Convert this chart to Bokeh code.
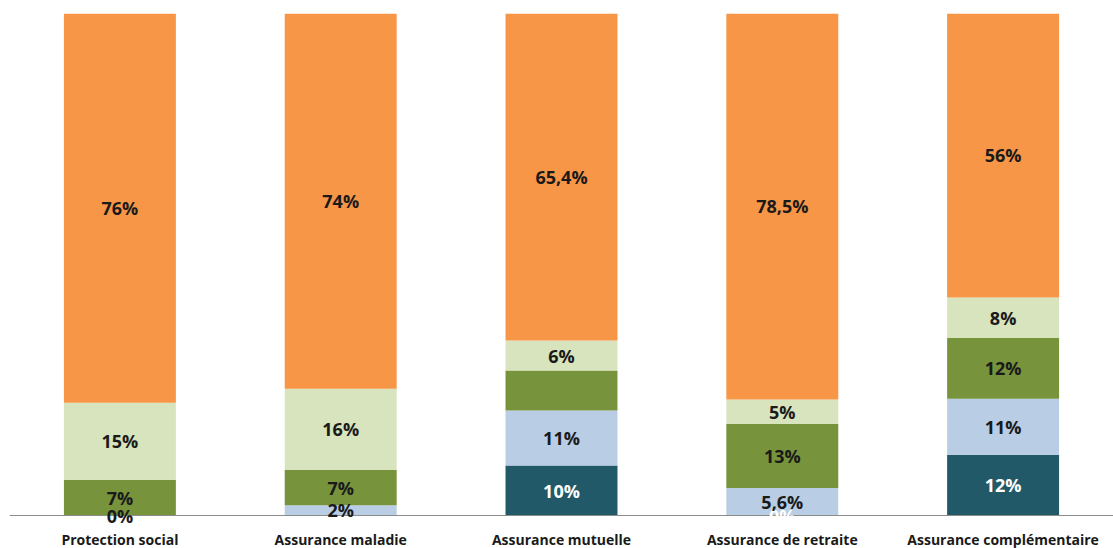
from bokeh.plotting import figure
from bokeh.models import FactorRange, ColumnDataSource, Span
from bokeh.core.properties import value
from bokeh.embed import file_html
from bokeh.resources import INLINE

categories = ["Protection social", "Assurance maladie", "Assurance mutuelle",
              "Assurance de retraite", "Assurance complémentaire"]

dark_teal = [0, 0, 10, 0, 12]
light_blue = [0, 2, 11, 5.6, 11]
green = [7, 7, 8, 13, 12]
light_green = [15, 16, 6, 5, 8]
orange = [76, 74, 65.4, 78.5, 56]

dark_teal_labels = ["", "", "10%", "0%", "12%"]
light_blue_labels = ["0%", "2%", "11%", "5,6%", "11%"]
green_labels = ["7%", "7%", "", "13%", "12%"]
light_green_labels = ["15%", "16%", "6%", "5%", "8%"]
orange_labels = ["76%", "74%", "65,4%", "78,5%", "56%"]

series = [
    (dark_teal, dark_teal_labels, "#215968", "white"),
    (light_blue, light_blue_labels, "#B9CDE5", "#1a1a1a"),
    (green, green_labels, "#77933C", "#1a1a1a"),
    (light_green, light_green_labels, "#D7E4BD", "#1a1a1a"),
    (orange, orange_labels, "#F79646", "#1a1a1a"),
]

totals = [sum(s[0][i] for s in series) for i in range(len(categories))]

pad = 14 / 502
p = figure(x_range=FactorRange(factors=categories, range_padding=0),
           y_range=(-pad, 1), frame_width=1104, frame_height=516,
           output_backend="svg", toolbar_location=None,
           min_border_left=9, min_border_right=0, min_border_top=13, min_border_bottom=4)

bottoms = [0.0] * len(categories)
label_x, label_y, label_t, label_c = [], [], [], []
for vals, lbls, color, tcolor in series:
    fr = [v / t for v, t in zip(vals, totals)]
    tops = [b + f for b, f in zip(bottoms, fr)]
    src = ColumnDataSource(dict(x=categories, bottom=bottoms, top=tops))
    p.vbar(x="x", bottom="bottom", top="top", width=0.507, source=src,
           fill_color=color, line_color=None)
    for c, b, t, l in zip(categories, bottoms, tops, lbls):
        if l:
            label_x.append(c)
            label_y.append((b + t) / 2)
            label_t.append(l)
            label_c.append(tcolor)
    bottoms = tops

p.add_layout(Span(location=0, dimension="width", line_color="#8c8c8c", line_width=1))

lsrc = ColumnDataSource(dict(x=label_x, y=label_y, t=label_t, c=label_c))
p.text(x="x", y="y", text="t", text_color="c", source=lsrc,
       text_align="center", text_baseline="middle",
       text_font=value("Open Sans"), text_font_style="bold", text_font_size="18px",
       level="overlay")

p.yaxis.visible = False
p.grid.visible = False
p.outline_line_color = None
p.xaxis.axis_line_color = None
p.xaxis.major_tick_line_color = None
p.xaxis.minor_tick_line_color = None
p.xaxis.major_tick_out = 0
p.xaxis.major_tick_in = 0
p.xaxis.major_label_text_font = "Open Sans"
p.xaxis.major_label_text_font_style = "bold"
p.xaxis.major_label_text_font_size = "14px"
p.xaxis.major_label_text_color = "#1a1a1a"
p.xaxis.major_label_standoff = 0
p.xaxis.group_text_font_size = "0px"

open("out.html", "w").write(file_html(p, INLINE))
